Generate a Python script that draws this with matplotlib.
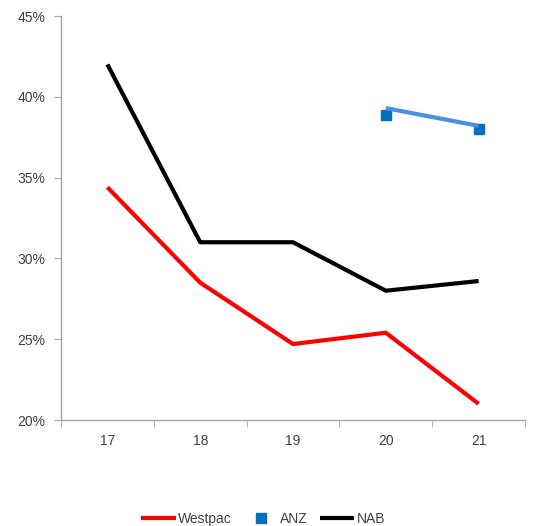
import matplotlib
matplotlib.use("Agg")
import matplotlib.pyplot as plt
from matplotlib.ticker import FixedLocator, FuncFormatter

years = ["17", "18", "19", "20", "21"]
westpac = [34.4, 28.5, 24.7, 25.4, 21.0]
nab = [42.0, 31.0, 31.0, 28.0, 28.6]
anz_years = ["20", "21"]
anz = [38.9, 38.0]
anz_line = [39.3, 38.2]
y_ticks = [20, 25, 30, 35, 40, 45]

plt.rcParams['font.family'] = ['Liberation Sans', 'DejaVu Sans']

fig = plt.figure(figsize=(5.37, 5.26), dpi=100)
ax = fig.add_axes([61/537, 1 - 420/526, (525-61)/537, (420-16)/526])

x = list(range(len(years)))
xa = [years.index(y) for y in anz_years]

lw_wp, = ax.plot(x, westpac, color="#FF0000", lw=3, solid_capstyle="butt", label="Westpac")
la, = ax.plot(xa, anz, ls="none", marker="s", ms=7, color="#0070C0", label="ANZ", zorder=2)
ax.plot(xa, anz_line, color="#4A90E2", lw=3, solid_capstyle="butt", zorder=3)
ln, = ax.plot(x, nab, color="#000000", lw=3, solid_capstyle="butt", label="NAB")

ax.set_xlim(-0.5, len(years) - 0.5)
ax.set_ylim(20, 45)
ax.yaxis.set_major_locator(FixedLocator(y_ticks))
ax.yaxis.set_major_formatter(FuncFormatter(lambda v, p: f"{v:.0f}%"))
ax.set_xticks(x)
ax.set_xticklabels(years)
ax.xaxis.set_minor_locator(FixedLocator([i - 0.5 for i in range(len(years) + 1)]))
ax.tick_params(axis="x", which="major", length=0, pad=10)
ax.tick_params(axis="x", which="minor", length=5, color="#A6A6A6", direction="out")
ax.tick_params(axis="y", length=5, color="#A6A6A6", direction="out", pad=6)
ax.tick_params(labelsize=10, labelcolor="#404040")

for s in ["top", "right"]:
    ax.spines[s].set_visible(False)
for s in ["left", "bottom"]:
    ax.spines[s].set_color("#A6A6A6")
    ax.spines[s].set_linewidth(1)

leg = fig.legend(handles=[lw_wp, la, ln], loc="center", bbox_to_anchor=(263/537, 1 - 519/526),
                 ncol=3, frameon=False, fontsize=10, handlelength=2.5, handletextpad=0.15,
                 columnspacing=0.85, labelcolor="#404040")

fig.savefig("out.png", dpi=100)
